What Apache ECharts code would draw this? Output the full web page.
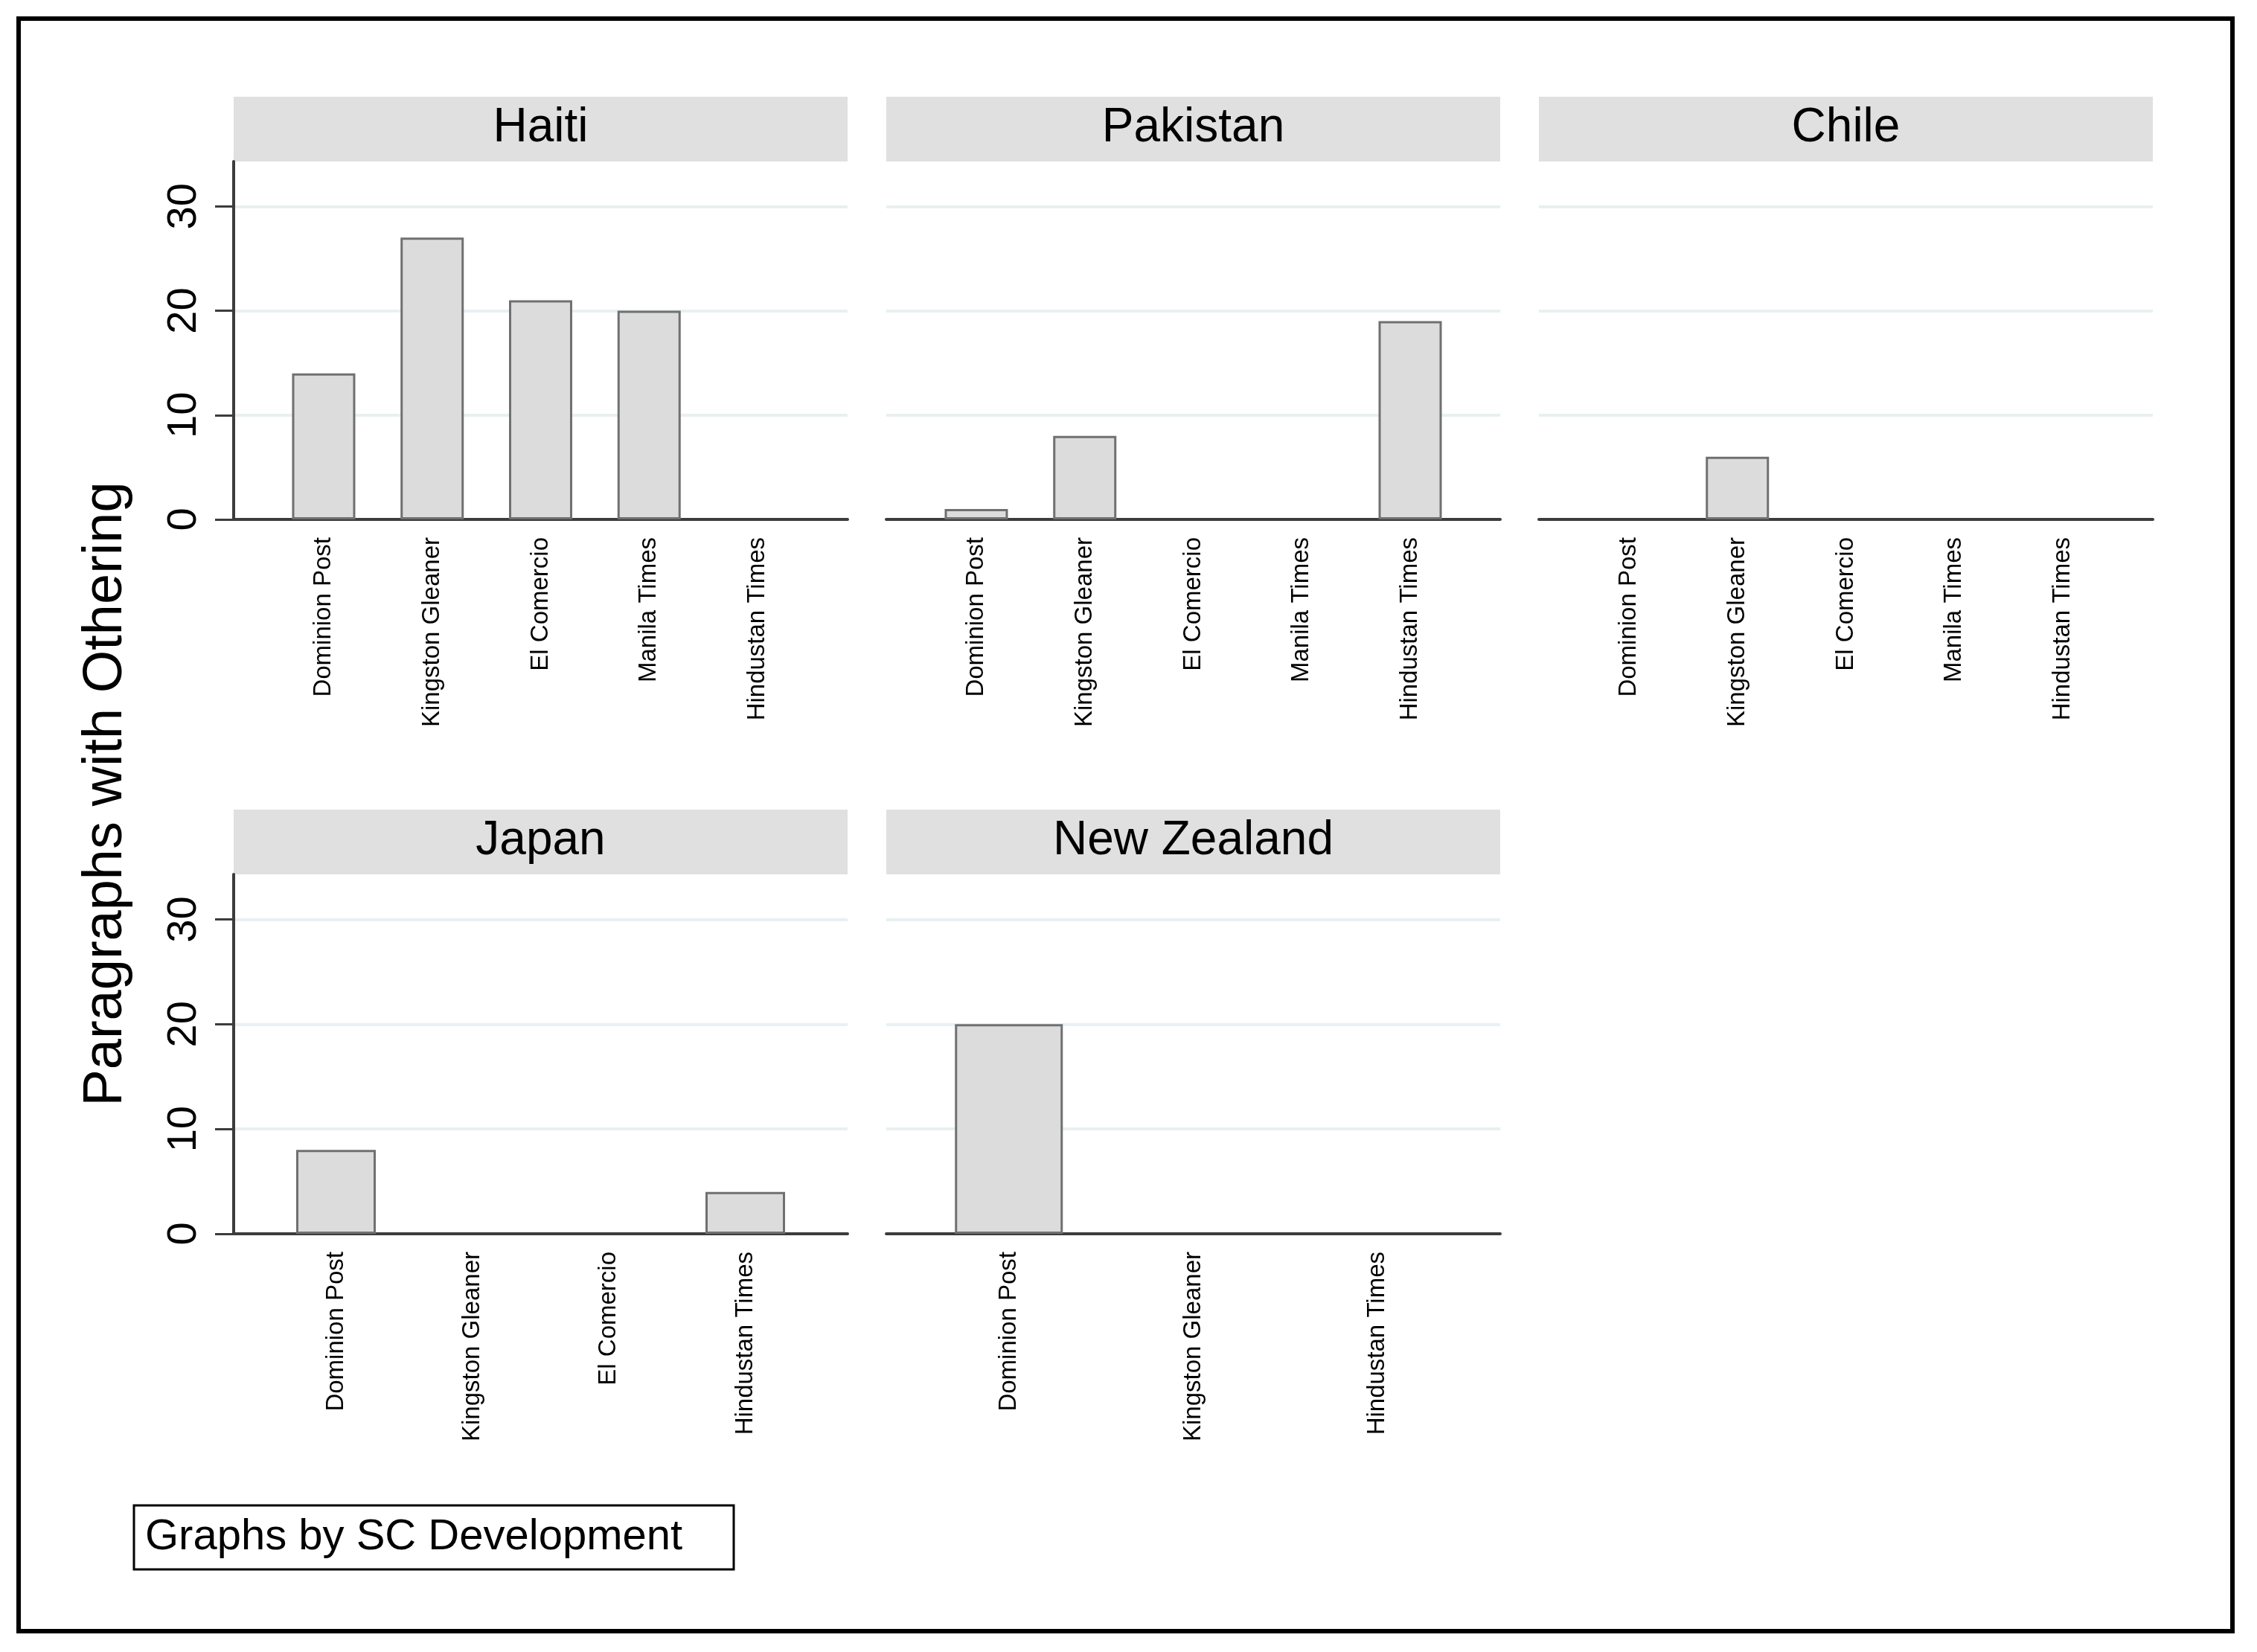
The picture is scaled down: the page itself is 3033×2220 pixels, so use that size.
<!DOCTYPE html>
<html>
<head>
<meta charset="utf-8">
<title>Paragraphs with Othering</title>
<script src="https://cdn.jsdelivr.net/npm/echarts@6/dist/echarts.min.js"></script>
<style>
  html, body { margin: 0; padding: 0; background: #fff; }
  #chart { width: 3033px; height: 2220px; }
</style>
</head>
<body>
<div id="chart"></div>
<script>
// newspapers shown in each panel
const papersFive = ['Dominion Post', 'Kingston Gleaner', 'El Comercio', 'Manila Times', 'Hindustan Times'];
const papersJapan = ['Dominion Post', 'Kingston Gleaner', 'El Comercio', 'Hindustan Times'];
const papersNZ = ['Dominion Post', 'Kingston Gleaner', 'Hindustan Times'];

// paragraphs with othering, per disaster
const haiti = [14, 27, 21, 20, 0];
const pakistan = [1, 8, 0, 0, 19];
const chile = [0, 6, 0, 0, 0];
const japan = [8, 0, 0, 4];
const newZealand = [20, 0, 0];

const yTicks = [0, 10, 20, 30];
const yTitle = 'Paragraphs with Othering';
const note = 'Graphs by SC Development';

const panels = [
  { title: 'Haiti', cats: papersFive, vals: haiti, col: 0, row: 0, yAxis: true },
  { title: 'Pakistan', cats: papersFive, vals: pakistan, col: 1, row: 0, yAxis: false },
  { title: 'Chile', cats: papersFive, vals: chile, col: 2, row: 0, yAxis: false },
  { title: 'Japan', cats: papersJapan, vals: japan, col: 0, row: 1, yAxis: true },
  { title: 'New Zealand', cats: papersNZ, vals: newZealand, col: 1, row: 1, yAxis: false }
]

// layout (pixels)
const colLeft = [314, 1191, 2068]
const panelW = 825
const headTop = [130, 1088]
const headH = 87
const plotH = [481, 483]
const yMax = 34.3
// outer padding of the category scale, in category steps
const padByCount = { 5: 0.83, 4: 0.75, 3: 0.665 }

const font = '"Liberation Sans", Arial, Helvetica, sans-serif'
const axisColor = '#3c3c3c'

const chart = echarts.init(document.getElementById('chart'), null, { renderer: 'canvas' })

const grids = [], xAxes = [], yAxes = [], series = [], graphics = []

// outer frame
graphics.push({
  type: 'rect',
  shape: { x: 25, y: 25, width: 2975, height: 2167 },
  style: { fill: '#fff', stroke: '#000', lineWidth: 6 },
  z: -10
})

panels.forEach((p, i) => {
  const left = colLeft[p.col]
  const top = headTop[p.row] + headH
  const n = p.cats.length
  const pad = padByCount[n]
  const step = panelW / (n - 1 + 2 * pad)

  grids.push({ left: left, top: top, width: panelW, height: plotH[p.row], containLabel: false })

  xAxes.push({
    type: 'value',
    gridIndex: i,
    min: -pad,
    max: n - 1 + pad,
    axisLine: { show: true, onZero: false, lineStyle: { color: axisColor, width: 4 } },
    axisTick: { show: false },
    splitLine: { show: false },
    axisLabel: {
      customValues: p.cats.map((c, k) => k),
      formatter: v => p.cats[Math.round(v)],
      rotate: 90,
      margin: 24,
      fontSize: 33,
      fontFamily: font,
      color: '#000'
    }
  })

  yAxes.push({
    type: 'value',
    gridIndex: i,
    min: 0,
    max: yMax,
    interval: 10,
    axisLine: { show: p.yAxis, onZero: false, lineStyle: { color: axisColor, width: 4 } },
    axisTick: { show: p.yAxis, length: 25, customValues: yTicks, lineStyle: { color: axisColor, width: 3 } },
    axisLabel: {
      show: p.yAxis,
      customValues: yTicks,
      rotate: 90,
      margin: 38,
      fontSize: 56,
      fontFamily: font,
      color: '#000'
    },
    splitLine: {
      show: true,
      showMinLine: false,
      showMaxLine: true,
      lineStyle: { color: '#e8f0f2', width: 4 }
    }
  })

  series.push({
    type: 'bar',
    xAxisIndex: i,
    yAxisIndex: i,
    barWidth: Math.round(step * 0.585),
    data: p.vals.map((v, k) => ({
      value: [k, v],
      itemStyle: v === 0 ? { borderWidth: 0, opacity: 0 } : undefined
    })),
    itemStyle: { color: '#dcdcdc', borderColor: '#707070', borderWidth: 3 },
    silent: true
  })

  // panel header strip
  graphics.push({
    type: 'rect',
    shape: { x: left, y: headTop[p.row], width: panelW, height: headH },
    style: { fill: '#e0e0e0' }
  })
  graphics.push({
    type: 'text',
    x: left + panelW / 2,
    y: headTop[p.row] + headH / 2 - 1,
    style: {
      text: p.title,
      fontSize: 64,
      fontFamily: font,
      fill: '#000',
      textAlign: 'center',
      textVerticalAlign: 'middle'
    }
  })
})

// shared y-axis title
graphics.push({
  type: 'text',
  x: 143,
  y: 1067,
  rotation: Math.PI / 2,
  style: {
    text: yTitle,
    fontSize: 74,
    fontFamily: font,
    fill: '#000',
    textAlign: 'center',
    textVerticalAlign: 'middle'
  }
})

// note box
graphics.push({
  type: 'rect',
  shape: { x: 180, y: 2023, width: 806, height: 86 },
  style: { fill: '#fff', stroke: '#000', lineWidth: 3 }
})
graphics.push({
  type: 'text',
  x: 195,
  y: 2066,
  style: {
    text: note,
    fontSize: 58,
    fontFamily: font,
    fill: '#000',
    textAlign: 'left',
    textVerticalAlign: 'middle'
  }
})

chart.setOption({
  backgroundColor: '#fff',
  animation: false,
  grid: grids,
  xAxis: xAxes,
  yAxis: yAxes,
  series: series,
  graphic: { elements: graphics }
})
</script>
</body>
</html>
